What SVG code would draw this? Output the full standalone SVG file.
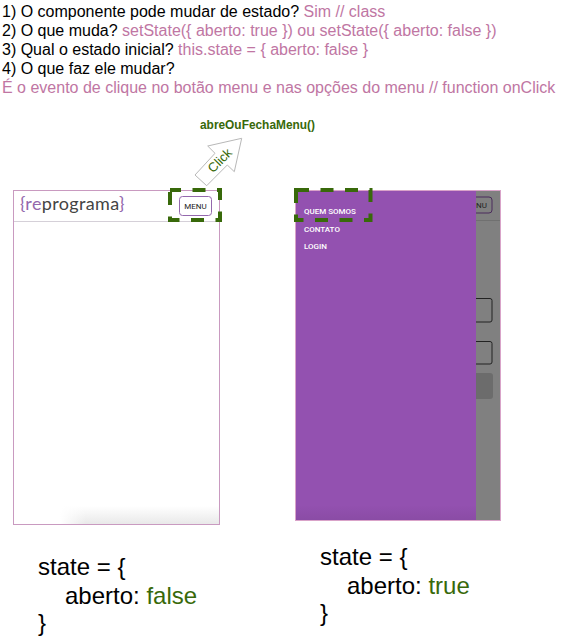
<svg xmlns="http://www.w3.org/2000/svg" width="571" height="641" viewBox="0 0 571 641">
<defs>
<style>
text{font-family:"Liberation Sans",Arial,sans-serif}
.q{font-size:16px;fill:#000}
.a{fill:#c076a3}
.st{font-size:24px;fill:#000}
.g{fill:#38690a}
.dash{fill:none;stroke:#38690a;stroke-width:4;stroke-dasharray:13 11.500}
.frame{stroke:#c99ac0;stroke-width:1}
.m{font-size:8px;font-weight:500;fill:#fff;font-family:"Roboto",sans-serif}
</style>
<linearGradient id="fade" x1="0" y1="0" x2="0" y2="1"><stop offset="0" stop-color="#fff"/><stop offset="1" stop-color="#e9e9e9"/></linearGradient>
<linearGradient id="side" x1="0" y1="0" x2="1" y2="0"><stop offset="0" stop-color="#fff"/><stop offset="1" stop-color="#fff" stop-opacity="0"/></linearGradient>
<linearGradient id="shade" x1="0" y1="0" x2="0" y2="1"><stop offset="0" stop-color="#9351b0"/><stop offset="1" stop-color="#8a4ca5"/></linearGradient>
</defs>
<rect width="571" height="641" fill="#fff"/>
<g id="questions">
<text class="q" x="2" y="17">1) O componente pode mudar de estado? <tspan class="a">Sim // class</tspan></text>
<text class="q" x="2" y="36">2) O que muda? <tspan class="a">setState({ aberto: true }) ou setState({ aberto: false })</tspan></text>
<text class="q" x="2" y="55">3) Qual o estado inicial? <tspan class="a">this.state = { aberto: false }</tspan></text>
<text class="q" x="2" y="74">4) O que faz ele mudar?</text>
<text class="q a" x="2" y="93" style="fill:#c076a3">É o evento de clique no botão menu e nas opções do menu // function onClick</text>
</g>
<g id="function-label"><text x="200" y="128.500" font-size="11.900" font-weight="bold" class="g">abreOuFechaMenu()</text></g>
<g id="click-arrow">
<polygon points="195,175 215,153.300 207.700,146 241.700,138.300 234.300,171.700 227.300,165 206.700,185.700" fill="#fff" stroke="#b8b8b8"/>
<text transform="translate(223,163.500) rotate(-45)" font-size="13" text-anchor="middle" class="g">Click</text>
</g>
<g id="closed-screen">
<rect x="13.500" y="190.500" width="206" height="334" fill="#fff" class="frame"/>
<rect x="60" y="506" width="159" height="18" fill="url(#fade)"/>
<rect x="60" y="506" width="26" height="18" fill="url(#side)"/>
<rect x="13.500" y="190.500" width="206" height="334" fill="none" class="frame"/>
<line x1="14" y1="221.500" x2="219" y2="221.500" stroke="#d5d0d8"/>
<text x="20" y="210" font-size="18" letter-spacing="0.350" style="font-family:Lato,sans-serif" fill="#444"><tspan fill="#9468ad">{re</tspan>programa<tspan fill="#9468ad">}</tspan></text>
<rect x="179.500" y="196.500" width="32" height="19" rx="3" fill="#fff" stroke="#9468ad"/>
<text x="195.500" y="209" font-size="8" text-anchor="middle" fill="#222" style="font-family:Roboto,sans-serif">MENU</text>
<rect x="170" y="190" width="50" height="30" class="dash" stroke-dashoffset="2"/>
</g>
<g id="open-screen">
<rect x="295.500" y="190.500" width="205" height="330" fill="#808080" stroke="#e2bcd6"/>
<line x1="476" y1="220.500" x2="500" y2="220.500" stroke="#707070"/>
<path d="M476 197H489a3 3 0 0 1 3 3V210a3 3 0 0 1-3 3H476" fill="none" stroke="#4b2b5c"/>
<text x="476" y="208" font-size="8" fill="#222" style="font-family:Roboto,sans-serif">NU</text>
<path d="M476 298.500H490a2 2 0 0 1 2 2V320a2 2 0 0 1-2 2H476" fill="none" stroke="#222"/>
<path d="M476 341.500H490a2 2 0 0 1 2 2V362a2 2 0 0 1-2 2H476" fill="none" stroke="#222"/>
<path d="M476 373H490a3 3 0 0 1 3 3V396a3 3 0 0 1-3 3H476z" fill="#6c6c6c"/>
<rect x="296" y="191" width="180" height="329" fill="#9351b0"/>
<rect x="296" y="505" width="180" height="15" fill="url(#shade)"/>
<rect x="295.500" y="190.500" width="205" height="330" fill="none" stroke="#d9a3c9"/>
<text class="m" x="304" y="214">QUEM SOMOS</text>
<text class="m" x="304" y="232">CONTATO</text>
<text class="m" x="304" y="249">LOGIN</text>
<rect x="296" y="190" width="74.500" height="30" class="dash"/>
</g>
<g id="state-false">
<text class="st" x="38" y="575">state = {</text>
<text class="st" x="65" y="604">aberto: <tspan class="g">false</tspan></text>
<text class="st" x="38" y="631">}</text>
</g>
<g id="state-true">
<text class="st" x="320" y="565">state = {</text>
<text class="st" x="347" y="594">aberto: <tspan class="g">true</tspan></text>
<text class="st" x="320" y="621">}</text>
</g>
<g id="connectors"/>
</svg>
